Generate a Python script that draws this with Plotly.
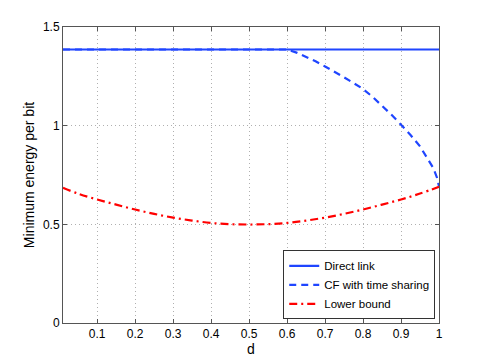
import plotly.graph_objects as go

# Data
d_vals = [0.01, 0.05, 0.1, 0.15, 0.2, 0.25, 0.3, 0.35, 0.4, 0.45, 0.5,
          0.55, 0.6, 0.65, 0.7, 0.75, 0.8, 0.85, 0.9, 0.95, 1.0]
direct_link = [1.386] * len(d_vals)
lower_bound = [0.685, 0.655, 0.626, 0.600, 0.575, 0.553, 0.534, 0.519, 0.507, 0.501, 0.499,
               0.501, 0.507, 0.519, 0.534, 0.553, 0.575, 0.600, 0.626, 0.656, 0.690]

cf_d = [0.01, 0.3, 0.6, 0.625, 0.65, 0.675, 0.7, 0.725, 0.75, 0.775, 0.8, 0.825, 0.85,
        0.875, 0.9, 0.925, 0.95, 0.97, 0.985, 0.995, 1.0]
cf_vals = [1.386, 1.386, 1.386, 1.370, 1.350, 1.326, 1.300, 1.274, 1.245, 1.216, 1.186,
           1.146, 1.101, 1.055, 1.005, 0.953, 0.895, 0.836, 0.785, 0.735, 0.692]

x_ticks = [0.1, 0.2, 0.3, 0.4, 0.5, 0.6, 0.7, 0.8, 0.9, 1]
x_tick_text = ["0.1", "0.2", "0.3", "0.4", "0.5", "0.6", "0.7", "0.8", "0.9", "1"]
y_ticks = [0, 0.5, 1, 1.5]
y_tick_text = ["0", "0.5", "1", "1.5"]

blue = "#1f45ff"
red = "#ff0000"

fig = go.Figure()
fig.add_trace(go.Scatter(x=d_vals, y=direct_link, mode="lines", name="Direct link",
                         line=dict(color=blue, width=2.2)))
fig.add_trace(go.Scatter(x=cf_d, y=cf_vals, mode="lines", name="CF with time sharing",
                         line=dict(color=blue, width=2.2, dash="7px,5px")))
fig.add_trace(go.Scatter(x=d_vals, y=lower_bound, mode="lines", name="Lower bound",
                         line=dict(color=red, width=2.2, dash="8px,4px,2px,4px", shape="spline")))

axis_common = dict(
    showline=True, linecolor="#555555", linewidth=1, mirror="ticks",
    ticks="inside", ticklen=4, tickcolor="#555555",
    showgrid=True, gridcolor="#b0b0b0", griddash="1px,3px", gridwidth=1,
    zeroline=False, tickfont=dict(family="Liberation Sans, Arial", size=12, color="#000000"),
)

fig.update_layout(
    width=477, height=356,
    margin=dict(l=55, r=46, t=19, b=41),
    paper_bgcolor="white", plot_bgcolor="white",
    font=dict(family="Liberation Sans, Arial", size=12, color="#000000"),
    xaxis=dict(range=[0.01, 1], tickvals=x_ticks, ticktext=x_tick_text,
               title=dict(text="d", font=dict(size=14), standoff=2), **axis_common),
    yaxis=dict(range=[0, 1.5], tickvals=y_ticks, ticktext=y_tick_text,
               title=dict(text="Minimum energy per bit", font=dict(size=14), standoff=5), **axis_common),
    legend=dict(x=0.99, y=0.012, xanchor="right", yanchor="bottom",
                bgcolor="white", bordercolor="#333333", borderwidth=1,
                font=dict(size=11.5), tracegroupgap=0, itemwidth=30),
    showlegend=True,
)

fig.write_html("out.html")
